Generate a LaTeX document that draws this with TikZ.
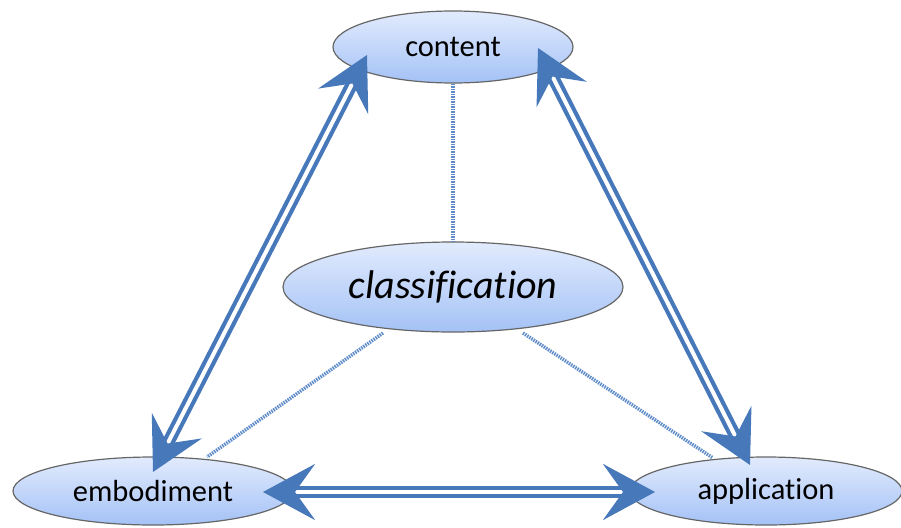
\documentclass[tikz,border=0pt]{standalone}
\usepackage{fontspec}
\setmainfont{Carlito}[Ligatures=CommonOff]
\usetikzlibrary{shapes.geometric,arrows.meta}
\definecolor{arrowblue}{RGB}{70,120,186}
\definecolor{dotblue}{RGB}{95,140,200}
\definecolor{elltop}{RGB}{226,235,253}
\definecolor{ellbot}{RGB}{164,194,246}
\tikzset{
  ell/.style={ellipse, inner sep=0pt, top color=elltop, bottom color=ellbot,
    draw=black!60, line width=1.2pt, font=\fontsize{30.5}{34}\selectfont},
  dbl/.style={draw=arrowblue, line width=4.2pt, double=white, double distance=4pt,
    {Stealth[length=52pt,width=56pt,inset=20pt]}-{Stealth[length=52pt,width=56pt,inset=20pt]}},
  dotl/.style={draw=dotblue, line width=3.5pt, dash pattern=on 1.5pt off 1pt}
}
\begin{document}
\begin{tikzpicture}[x=1pt,y=-1pt]
\useasboundingbox (0,0) rectangle (901,527);
\node[ell, minimum width=240pt, minimum height=72pt] (content) at (453,47) {content};
\node[ell, minimum width=340pt, minimum height=90pt, font=\fontsize{40}{44}\selectfont\itshape] (class) at (453,287) {classification};
\node[ell, minimum width=280pt, minimum height=68pt] (emb) at (153,491) {embodiment};
\node[ell, minimum width=272pt, minimum height=68pt] (app) at (766,491) {application};
% dotted relations
\draw[dotl] (content.south) -- (class.north);
\draw[dotl] ([shift={(-70,46)}]class.center) -- ([shift={(54,-34)}]emb.center);
\draw[dotl] ([shift={(70,46)}]class.center) -- ([shift={(-53,-33)}]app.center);
% double arrows
\draw[dbl] ([shift={(0,-19)}]emb.center) -- ([shift={(-86,8)}]content.center);
\draw[dbl] ([shift={(-16,-26)}]app.center) -- ([shift={(85,1)}]content.center);
\draw[dbl] ([shift={(110,1)}]emb.center) -- ([shift={(-111,1)}]app.center);
\end{tikzpicture}
\end{document}
